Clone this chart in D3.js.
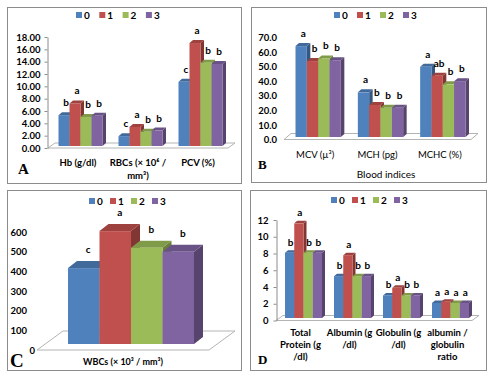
<!DOCTYPE html>
<html><head><meta charset="utf-8">
<script src="https://cdn.jsdelivr.net/npm/d3@7"></script>
<style>body{margin:0;background:#fff} svg{display:block}</style>
</head><body><svg id="c" width="493" height="379" font-family="Lato, 'Open Sans', sans-serif"></svg>
<script>
const series = ["0","1","2","3"];
const seriesColors = ["#4F81BD","#C0504D","#9BBB59","#8064A2"];

const catsA = [["Hb (g/dl)"],["RBCs (× 10⁶ /","mm³)"],["PCV (%)"]];
const valuesA = [[5.0,6.9,4.7,4.9],[1.6,3.1,2.3,2.5],[10.4,16.7,13.5,13.3]];
const lettersA = [["b","a","b","b"],["c","a","b","b"],["c","a","b","b"]];
const ticksA = [0,2,4,6,8,10,12,14,16,18];

const catsB = [["MCV  (µ³)"],["MCH (pg)"],["MCHC (%)"]];
const valuesB = [[62.5,52.2,54.0,52.8],[30.7,22.0,20.1,20.1],[48.3,42.1,36.2,38.4]];
const lettersB = [["a","b","b","b"],["a","b","b","b"],["a","ab","b","b"]];
const ticksB = [0,10,20,30,40,50,60,70];
const titleB = "Blood indices";

const catsC = [["WBCs (× 10³ / mm³)"]];
const valuesC = [[386,574,490,469]];
const lettersC = [["c","a","b","b"]];
const ticksC = [0,100,200,300,400,500,600];

const catsD = [["Total","Protein (g","/dl)"],["Albumin (g","/dl)"],["Globulin (g","/dl)"],["albumin /","globulin","ratio"]];
const valuesD = [[7.8,11.3,7.8,7.8],[5.0,7.5,5.0,5.0],[2.7,3.6,2.7,2.7],[1.8,1.95,1.8,1.8]];
const lettersD = [["b","a","b","b"],["b","a","b","b"],["b","a","b","b"],["a","a","a","a"]];
const ticksD = [0,2,4,6,8,10,12];

const svg = d3.select("#c");

function panel(cfg, cats, values, letters, ticks){
  const g = svg.append("g");
  const [bx1,by1,bx2,by2] = cfg.box;
  g.append("rect").attr("x",bx1+0.5).attr("y",by1+0.5).attr("width",bx2-bx1).attr("height",by2-by1)
    .attr("fill","#fff").attr("stroke","#8c8c8c");
  const y = d3.scaleLinear().domain([0, ticks[ticks.length-1]]).range(cfg.yRange);
  const keys = cats.map(c=>c.join(" "));
  const x = d3.scaleBand().domain(keys).range(cfg.floorX);
  const xs = d3.scaleBand().domain(series).range([cfg.pad, x.bandwidth()-cfg.pad]);
  const y0 = y(0);
  const [fdx,fdy] = cfg.floorDepth;
  const fl = [[cfg.floorX[0],y0],[cfg.floorX[1],y0],[cfg.floorX[1]+fdx,y0+fdy],[cfg.floorX[0]+fdx,y0+fdy]];
  g.append("polygon").attr("points",fl.map(p=>p.join(",")).join(" ")).attr("fill","#fff").attr("stroke","#b4b4b4");

  const ax = g.append("g").attr("transform",`translate(${cfg.axisX},0)`)
    .call(d3.axisLeft(y).tickValues(ticks).tickFormat(d3.format(cfg.fmt)).tickSize(cfg.tickSize).tickSizeOuter(0).tickPadding(cfg.tickPad));
  ax.attr("font-family",null).attr("font-size",null);
  ax.selectAll("text").attr("font-size",cfg.tickFont).attr("font-weight","bold").attr("fill","#000");
  ax.select(".domain").attr("stroke", cfg.showAxis ? "#8c8c8c" : "none");
  ax.selectAll(".tick line").attr("stroke", cfg.showAxis ? "#8c8c8c" : "none");
  if (cfg.zeroShift) ax.selectAll(".tick text").filter(d=>d===0).attr("x", -cfg.tickPad + cfg.zeroShift);

  const labels = [];
  values.forEach((vals,i)=>vals.forEach((v,j)=>{
    const w = xs.bandwidth();
    const x0 = x(keys[i]) + xs(series[j]) + cfg.barShift[0];
    const yb = y0 + cfg.barShift[1];
    const yt = yb - (y0 - y(v));
    const [dx,dy] = cfg.barDepth;
    const c = d3.color(seriesColors[j]);
    const side = [[x0+w,yb],[x0+w+dx,yb+dy],[x0+w+dx,yt+dy],[x0+w,yt]];
    const top = [[x0,yt],[x0+w,yt],[x0+w+dx,yt+dy],[x0+dx,yt+dy]];
    g.append("polygon").attr("points",side.map(p=>p.join(",")).join(" ")).attr("fill",c.darker(1.1));
    g.append("polygon").attr("points",top.map(p=>p.join(",")).join(" ")).attr("fill",c.darker(0.55));
    g.append("rect").attr("x",x0).attr("y",yt).attr("width",w).attr("height",yb-yt).attr("fill",seriesColors[j]);
    labels.push({t:letters[i][j], x:x0+w/2+cfg.labelDx, y:yt-cfg.labelDy});
  }));
  labels.forEach(l=>g.append("text").attr("x",l.x).attr("y",l.y).attr("text-anchor","middle")
    .attr("font-size",cfg.lblFont).attr("font-weight","bold").text(l.t));

  cats.forEach((lines,i)=>{
    lines.forEach((ln,k)=>{
      g.append("text").attr("x",x(keys[i])+x.bandwidth()/2).attr("y",cfg.catY+k*cfg.lineH)
        .attr("text-anchor","middle").attr("font-size",cfg.catFont).attr("font-weight",cfg.catBold?"bold":"normal").text(ln);
    });
  });

  series.forEach((s,j)=>{
    const lx = cfg.legend.x0 + j*cfg.legend.dx;
    g.append("rect").attr("x",lx).attr("y",cfg.legend.y-3).attr("width",6).attr("height",6).attr("fill",seriesColors[j]);
    g.append("text").attr("x",lx+8).attr("y",cfg.legend.y+3.5).attr("font-size",10).attr("font-weight","bold").text(s);
  });

  g.append("text").attr("x",cfg.letter.x).attr("y",cfg.letter.y).attr("font-family","'Liberation Serif', 'DejaVu Serif', serif")
    .attr("font-size",cfg.letter.size).attr("font-weight","bold").text(cfg.letter.t);
  if (cfg.title) g.append("text").attr("x",cfg.title.x).attr("y",cfg.title.y).attr("text-anchor","middle")
    .attr("font-size",10).text(cfg.title.t);
}

panel({box:[7,7,241,183], yRange:[148,37], floorX:[48,228], floorDepth:[7,-5], barShift:[2.5,-2], barDepth:[3.5,-3],
  pad:8, fmt:".2f", axisX:47.5, tickSize:3, tickPad:4, showAxis:true, tickFont:9.5, lblFont:10,
  legend:{x0:76,dx:23.3,y:15}, catY:165.5, lineH:13, catFont:9.5, catBold:true,
  letter:{t:"A",x:18,y:174,size:15}, labelDy:9, labelDx:2}, catsA, valuesA, lettersA, ticksA);

panel({box:[251,7,486,182], yRange:[139.5,37.7], floorX:[284,471], floorDepth:[7,-6], barShift:[3,-2.5], barDepth:[3.5,-3],
  pad:8.5, fmt:".1f", axisX:284, tickSize:0, tickPad:7, showAxis:false, tickFont:9.5, lblFont:10,
  legend:{x0:334,dx:23,y:15}, catY:157.5, lineH:13, catFont:9.5, catBold:false,
  letter:{t:"B",x:258,y:169,size:13}, labelDy:9, labelDx:2, title:{t:titleB,x:386,y:178}}, catsB, valuesB, lettersB, ticksB);

panel({box:[7,190,241,370], yRange:[350,232], floorX:[37,209], floorDepth:[26,-19], barShift:[8,-6], barDepth:[9,-7],
  pad:23, fmt:"d", axisX:37, tickSize:0, tickPad:10, showAxis:false, tickFont:9.5, lblFont:10, zeroShift:8,
  legend:{x0:89,dx:21,y:201}, catY:365, lineH:12, catFont:9, catBold:true,
  letter:{t:"C",x:10,y:367,size:19}, labelDy:15, labelDx:4.5}, catsC, valuesC, lettersC, ticksC);

panel({box:[250,190,486,370], yRange:[320.5,220], floorX:[276,472], floorDepth:[7,-5], barShift:[3,-2.5], barDepth:[3,-2.5],
  pad:6, fmt:"d", axisX:276.5, tickSize:3, tickPad:5, showAxis:true, tickFont:9.5, lblFont:10,
  legend:{x0:331,dx:21,y:200}, catY:335.5, lineH:12, catFont:9.5, catBold:true,
  letter:{t:"D",x:258,y:364,size:13}, labelDy:7, labelDx:1}, catsD, valuesD, lettersD, ticksD);
</script></body></html>
